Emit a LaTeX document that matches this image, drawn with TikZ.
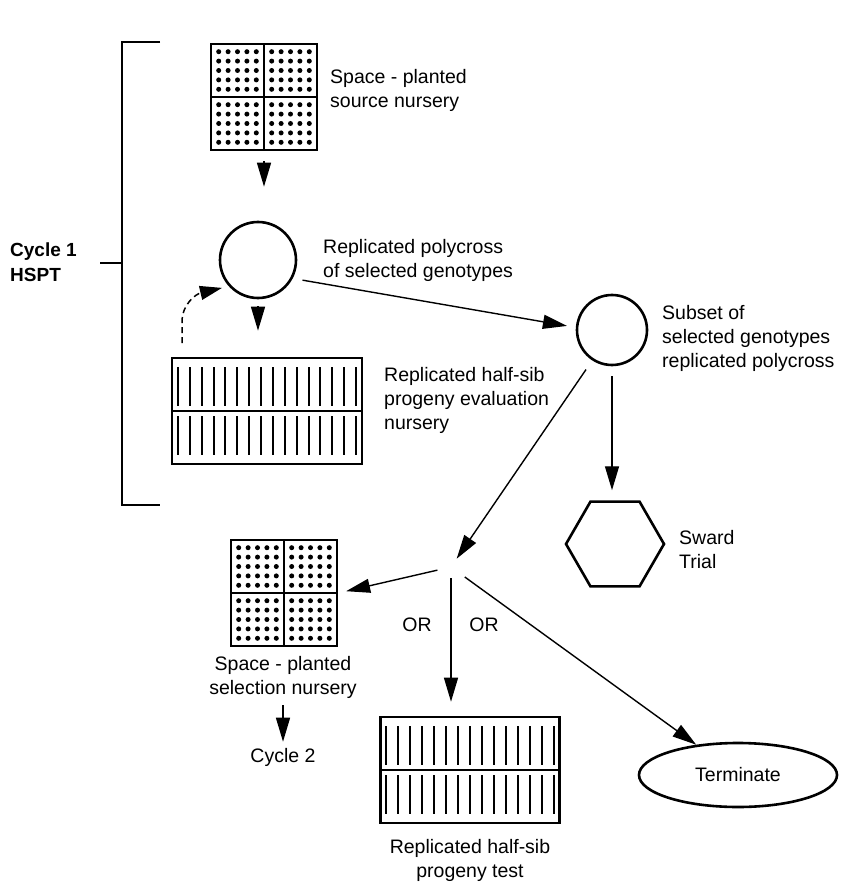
\documentclass[tikz,border=0pt]{standalone}
\usepackage{fontspec}
\setmainfont{Liberation Sans}
\usetikzlibrary{arrows.meta,shapes.geometric,calc}
\begin{document}
\begin{tikzpicture}[x=1pt,y=-1pt,
  lbl/.style={font=\fontsize{19.5}{24}\selectfont, align=left, inner sep=0},
  clbl/.style={font=\fontsize{19.5}{24}\selectfont, align=center, inner sep=0},
  blbl/.style={font=\bfseries\fontsize{19}{25}\selectfont, align=left, inner sep=0},
  arr/.style={line width=1.4pt, -{Triangle[length=24pt,width=14pt]}},
  ring/.style={circle, draw, line width=2.6pt, inner sep=0},
  gridbox/.style={draw, line width=2.6pt, inner sep=0, minimum width=106pt, minimum height=106pt,
    path picture={
      \begin{scope}[shift={(path picture bounding box.center)}]
        \draw[line width=2pt] (-53,0) -- (53,0) (0,-53) -- (0,53);
        \foreach \qx in {-26.5,26.5}{\foreach \qy in {-26.5,26.5}{\foreach \i in {-2,...,2}{\foreach \j in {-2,...,2}{
          \fill (\qx+\i*9.4,\qy+\j*9.4) circle[radius=2.5pt];}}}}
      \end{scope}}},
  stripebox/.style n args={3}{draw, line width=2.6pt, inner sep=0, minimum width=#1pt, minimum height=#2pt,
    path picture={
      \begin{scope}[shift={(path picture bounding box.center)}]
        \draw[line width=2pt] (-#1/2,0) -- (#1/2,0);
        \foreach \k in {1,...,#3}{
          \draw[line width=2pt] ({-#1/2+(\k-0.5)*#1/#3},{-#2/2+9}) -- ({-#1/2+(\k-0.5)*#1/#3},-5)
                                  ({-#1/2+(\k-0.5)*#1/#3},5) -- ({-#1/2+(\k-0.5)*#1/#3},{#2/2-9});}
      \end{scope}}}
]
\useasboundingbox (0,0) rectangle (841,882);

% bracket
\coordinate (bt) at (160,42);
\coordinate (bb) at (160,505);
\coordinate (bm) at (100,263);
\draw[line width=2.8pt] (bt) -- (122,42) -- (122,505) -- (bb);
\draw[line width=2.8pt] (bm) -- (122,263);
\node[blbl, anchor=west] (cyc1) at (10,262) {Cycle 1\\HSPT};

% top part
\node[gridbox] (src) at (264,97) {};
\node[lbl, anchor=west] (srct) at (330,90) {Space - planted\\source nursery};

\node[ring, minimum size=76pt] (c1) at (258,260) {};
\node[lbl, anchor=west] (c1t) at (323,260) {Replicated polycross\\of selected genotypes};

\node[stripebox={190}{106}{16}] (sb1) at (267,411) {};
\node[lbl, anchor=west] (sb1t) at (384,400) {Replicated half-sib\\progeny evaluation\\nursery};

\node[ring, minimum size=70pt] (c2) at (612,330) {};
\node[lbl, anchor=west] (c2t) at (662,338) {Subset of\\selected genotypes\\replicated polycross};

\node[regular polygon, regular polygon sides=6, draw, line width=2.6pt, inner sep=0, minimum size=98pt] (hex) at (615,544) {};
\node[lbl, anchor=west] (hext) at (679,550) {Sward\\Trial};

% lower part
\coordinate (fork) at (451,567);
\node[gridbox] (gb2) at (284,593) {};
\node[clbl] (gb2t) at (283,677) {Space - planted\\selection nursery};
\node[clbl] (cyc2) at (283,757) {Cycle 2};

\node[stripebox={179}{106}{15}] (sb2) at (470,770) {};
\node[clbl] (sb2t) at (470,860) {Replicated half-sib\\progeny test};

\node[ellipse, draw, line width=2.6pt, minimum width=198pt, minimum height=64pt, inner sep=0, font=\fontsize{19.5}{24}\selectfont] (term) at (738,775) {Terminate};

\node[clbl] (or1) at (417,625) {OR};
\node[clbl] (or2) at (484,625) {OR};

% connectors
\draw[arr, shorten <=10pt, shorten >=34pt] (src.south) -- (src.south |- c1.north);
\draw[arr, shorten <=7pt, shorten >=26pt] (c1.south) -- (c1.south |- sb1.north);
\coordinate (dstart) at (182,343);
\draw[line width=1.5pt, dash pattern=on 6pt off 4pt, -{Triangle[length=22pt,width=14pt]}, shorten >=7pt]
  (dstart) -- (182,322) .. controls (182,304) and (196,294) .. (c1.222);
\draw[arr, shorten <=10pt, shorten >=9pt] (c1.-28) -- (c2.176);
\draw[arr, shorten <=10pt, shorten >=10pt] (c2.south) -- (c2.south |- hex.north);
\draw[arr, shorten <=11pt, shorten >=10pt] (c2.237) -- (fork);
\draw[arr, shorten <=14pt, shorten >=8pt] (fork) -- (gb2.east);
\draw[arr, shorten <=11pt, shorten >=14pt] (fork) -- (fork |- sb2.north);
\draw[arr, shorten <=17pt] (fork) -- (term);
\draw[arr, shorten <=7pt, shorten >=6pt] (gb2t.south) -- (cyc2.north);
\end{tikzpicture}
\end{document}
